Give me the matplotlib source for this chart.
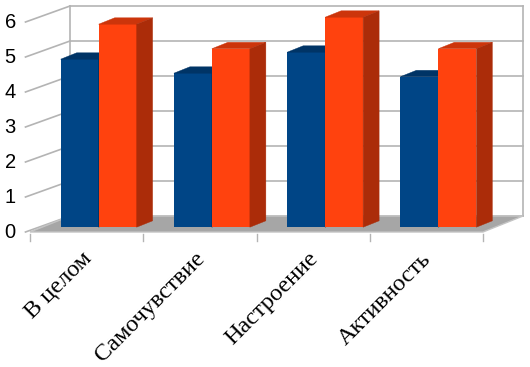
import matplotlib
matplotlib.use("Agg")
import matplotlib.pyplot as plt
from matplotlib.patches import Polygon

categories = ["В целом", "Самочувствие", "Настроение", "Активность"]
series_a = [4.8, 4.4, 5.0, 4.3]
series_b = [5.8, 5.1, 6.0, 5.1]
y_ticks = [0, 1, 2, 3, 4, 5, 6]

# oblique projection: full depth shifts x by DX (category units), y by DY (value units)
DX, DY = 0.353, 0.457
BAR_W = 0.3355
D0, D1 = 0.3, 0.7  # bar depth range (fraction of full depth)

colors = {
    "a": ("#004586", "#003466", "#002d57"),
    "b": ("#ff420e", "#cc350b", "#ab2c09"),
}

fig = plt.figure(figsize=(5.3, 3.67), dpi=100)
ax = fig.add_axes([0, 0, 1, 1])
ax.set_xlim(-0.265, 4.415)
ax.set_ylim(-3.857, 6.629)
ax.axis("off")

n = len(categories)
ymax = y_ticks[-1]
grid_c = "#b4b4b4"

# back wall and side wall
ax.plot([DX, DX], [DY, ymax + DY], color=grid_c, lw=1.2, zorder=1)
ax.plot([n + DX, n + DX], [DY, ymax + DY], color=grid_c, lw=1.2, zorder=1)
for t in y_ticks:
    ax.plot([DX, n + DX], [t + DY, t + DY], color=grid_c, lw=1.2, zorder=1)
    ax.plot([-0.04, DX], [t, t + DY], color=grid_c, lw=1.2, zorder=1)
    ax.text(-0.125, t, str(t), ha="right", va="center", fontsize=14.5,
            family="Liberation Sans")

# floor
ax.add_patch(Polygon([(0, 0), (n, 0), (n + DX, DY), (DX, DY)],
                     facecolor="#a6a6a6", edgecolor="#c4c4c4", lw=1.0, zorder=2))
for i in range(n + 1):
    ax.plot([i, i], [-0.05, -0.25], color=grid_c, lw=1.0, zorder=2)


def bar3d(x_left, value, key):
    front, top, side = colors[key]
    x0 = x_left + D0 * DX
    y0 = D0 * DY
    ax.bar(x0, value, width=BAR_W, bottom=y0, align="edge", color=front,
           lw=0, zorder=3)
    ddx, ddy = (D1 - D0) * DX, (D1 - D0) * DY
    x1 = x0 + BAR_W
    ax.add_patch(Polygon([(x0, y0 + value), (x1, y0 + value),
                          (x1 + ddx, y0 + value + ddy), (x0 + ddx, y0 + value + ddy)],
                         facecolor=top, edgecolor=top, lw=0.3, zorder=3))
    ax.add_patch(Polygon([(x1, y0), (x1 + ddx, y0 + ddy),
                          (x1 + ddx, y0 + value + ddy), (x1, y0 + value)],
                         facecolor=side, edgecolor=side, lw=0.3, zorder=3))


for i, (va, vb) in enumerate(zip(series_a, series_b)):
    center = i + 0.5
    bar3d(center - BAR_W, va, "a")
    bar3d(center, vb, "b")
    ax.text(center - 0.05, -0.47, categories[i], rotation=45, rotation_mode="anchor",
            ha="right", va="top", fontsize=17.5, family="Liberation Serif")

fig.savefig("out.png", dpi=100)
